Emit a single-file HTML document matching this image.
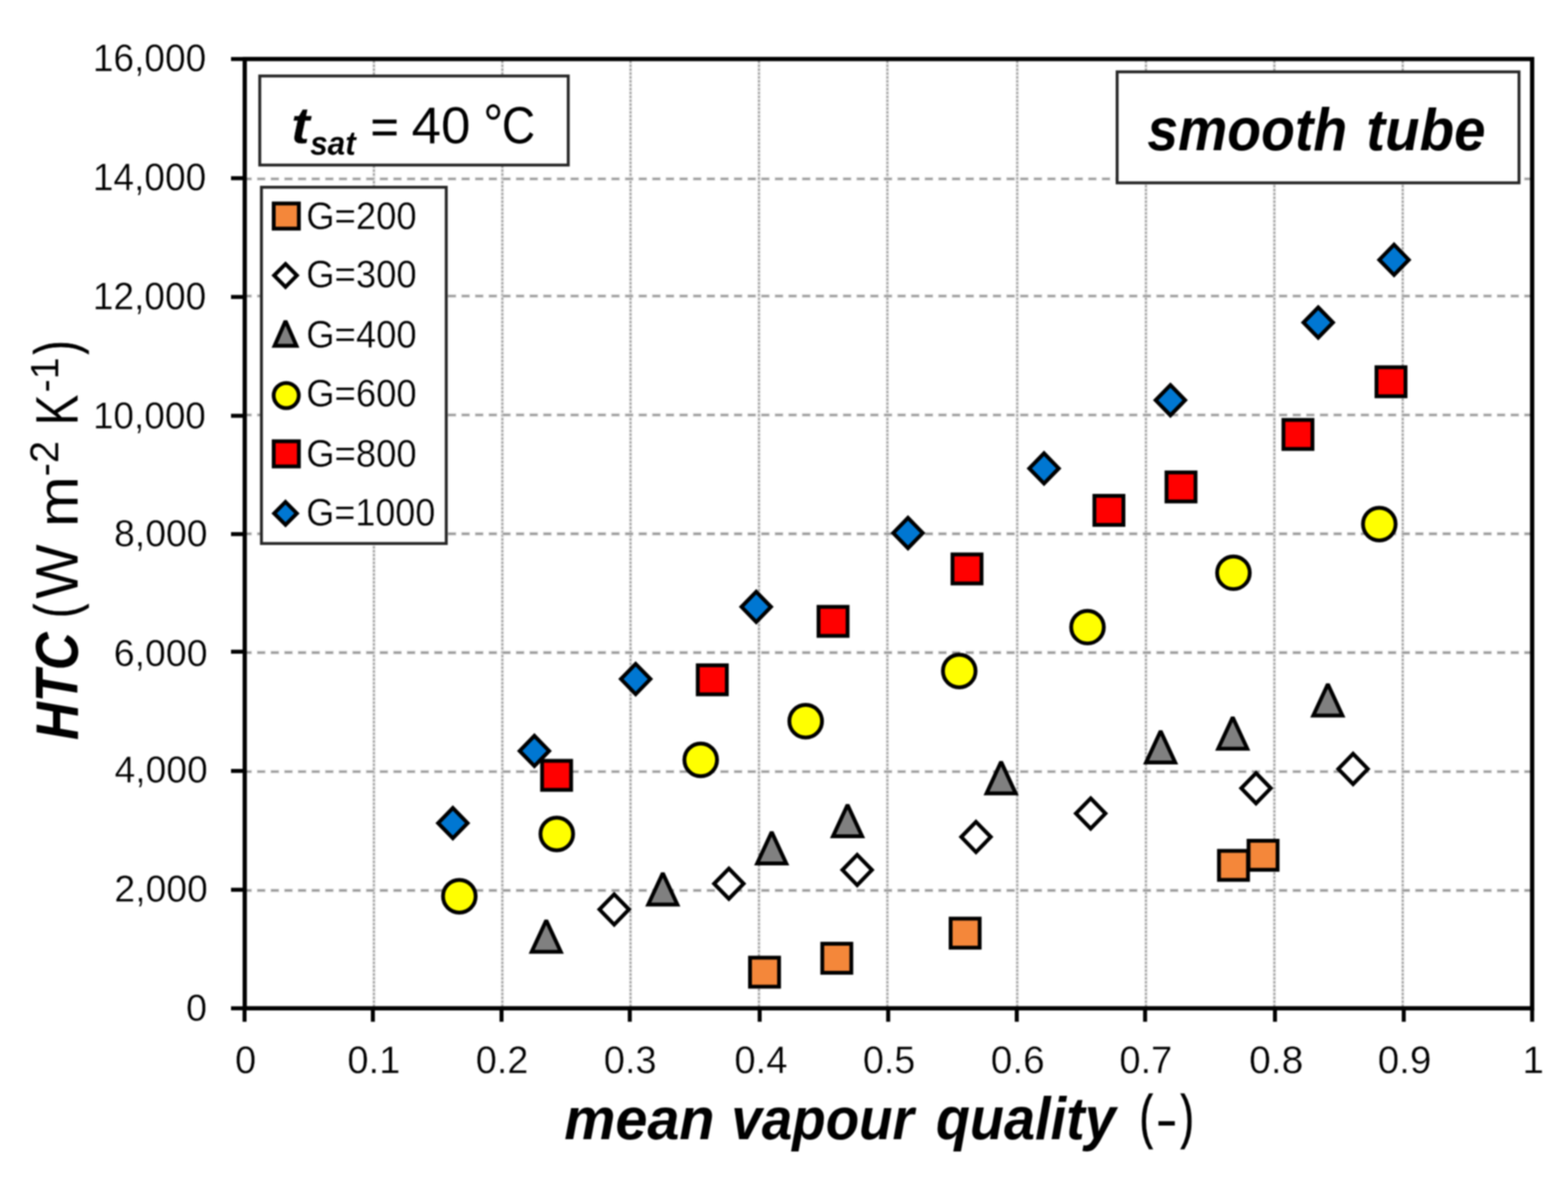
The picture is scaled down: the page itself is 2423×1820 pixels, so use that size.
<!DOCTYPE html>
<html lang="en"><head><meta charset="utf-8"><title>HTC vs mean vapour quality - smooth tube</title>
<style>html,body{margin:0;padding:0;background:#fff}body{width:2423px;height:1820px}svg{display:block}text{font-family:"Liberation Sans",sans-serif;fill:#000}</style></head><body>
<svg width="2423" height="1820" viewBox="0 0 2423 1820" role="img" aria-label="HTC versus mean vapour quality, smooth tube, tsat = 40 °C">
<defs><filter id="soft" color-interpolation-filters="sRGB" x="0" y="0" width="2423" height="1820" filterUnits="userSpaceOnUse"><feGaussianBlur stdDeviation="0.8"/></filter></defs>
<rect width="2423" height="1820" fill="#fff"/>
<g filter="url(#soft)">
<rect x="-20" y="-20" width="2463" height="1860" fill="#fff"/>
<g fill="none">
<g stroke="#efefef" stroke-width="5.2">
<line x1="577.9" y1="91.2" x2="577.9" y2="1557.8"/>
<line x1="776.3" y1="91.2" x2="776.3" y2="1557.8"/>
<line x1="974.4" y1="91.2" x2="974.4" y2="1557.8"/>
<line x1="1172.9" y1="91.2" x2="1172.9" y2="1557.8"/>
<line x1="1371.3" y1="91.2" x2="1371.3" y2="1557.8"/>
<line x1="1572" y1="91.2" x2="1572" y2="1557.8"/>
<line x1="1770.9" y1="91.2" x2="1770.9" y2="1557.8"/>
<line x1="1969.3" y1="91.2" x2="1969.3" y2="1557.8"/>
<line x1="2167.7" y1="91.2" x2="2167.7" y2="1557.8"/>
</g>
<g stroke="#a2a2a2" stroke-width="3.0" stroke-dasharray="3.9 2.1">
<line x1="577.8" y1="93.7" x2="577.8" y2="1557.8"/>
<line x1="776.2" y1="93.7" x2="776.2" y2="1557.8"/>
<line x1="974.3" y1="93.7" x2="974.3" y2="1557.8"/>
<line x1="1172.8" y1="93.7" x2="1172.8" y2="1557.8"/>
<line x1="1371.2" y1="93.7" x2="1371.2" y2="1557.8"/>
<line x1="1571.9" y1="93.7" x2="1571.9" y2="1557.8"/>
<line x1="1770.8" y1="93.7" x2="1770.8" y2="1557.8"/>
<line x1="1969.2" y1="93.7" x2="1969.2" y2="1557.8"/>
<line x1="2167.6" y1="93.7" x2="2167.6" y2="1557.8"/>
</g>
<g stroke="#d4d4d4" stroke-width="5.4" stroke-dasharray="13.2 7.855">
<line x1="376" y1="1375.7" x2="2367.6" y2="1375.7"/>
<line x1="376" y1="1192.1" x2="2367.6" y2="1192.1"/>
<line x1="376" y1="1008.3" x2="2367.6" y2="1008.3"/>
<line x1="376" y1="824.8" x2="2367.6" y2="824.8"/>
<line x1="376" y1="641.1" x2="2367.6" y2="641.1"/>
<line x1="376" y1="457.4" x2="2367.6" y2="457.4"/>
<line x1="376" y1="276.4" x2="2367.6" y2="276.4"/>
</g>
<g stroke="#8f8f8f" stroke-width="2.4" stroke-dasharray="11.4 9.655">
<line x1="376.9" y1="1375.7" x2="2367.6" y2="1375.7"/>
<line x1="376.9" y1="1192.1" x2="2367.6" y2="1192.1"/>
<line x1="376.9" y1="1008.3" x2="2367.6" y2="1008.3"/>
<line x1="376.9" y1="824.8" x2="2367.6" y2="824.8"/>
<line x1="376.9" y1="641.1" x2="2367.6" y2="641.1"/>
<line x1="376.9" y1="457.4" x2="2367.6" y2="457.4"/>
<line x1="376.9" y1="276.4" x2="2367.6" y2="276.4"/>
</g>
</g>
<g stroke="#000" fill="none">
<rect x="378.2" y="91.2" width="1989.4" height="1466.6" stroke-width="6.6"/>
<g stroke-width="6.2">
<line x1="357" y1="1557.8" x2="378.2" y2="1557.8"/>
<line x1="357" y1="1374.7" x2="378.2" y2="1374.7"/>
<line x1="357" y1="1191.1" x2="378.2" y2="1191.1"/>
<line x1="357" y1="1006.9" x2="378.2" y2="1006.9"/>
<line x1="357" y1="825.2" x2="378.2" y2="825.2"/>
<line x1="357" y1="642.4" x2="378.2" y2="642.4"/>
<line x1="357" y1="458.8" x2="378.2" y2="458.8"/>
<line x1="357" y1="275.3" x2="378.2" y2="275.3"/>
<line x1="357" y1="91.2" x2="378.2" y2="91.2"/>
<line x1="377.9" y1="1557.8" x2="377.9" y2="1578.6"/>
<line x1="576.2" y1="1557.8" x2="576.2" y2="1578.6"/>
<line x1="775" y1="1557.8" x2="775" y2="1578.6"/>
<line x1="973.2" y1="1557.8" x2="973.2" y2="1578.6"/>
<line x1="1173.9" y1="1557.8" x2="1173.9" y2="1578.6"/>
<line x1="1372.5" y1="1557.8" x2="1372.5" y2="1578.6"/>
<line x1="1571.2" y1="1557.8" x2="1571.2" y2="1578.6"/>
<line x1="1769.5" y1="1557.8" x2="1769.5" y2="1578.6"/>
<line x1="1970.2" y1="1557.8" x2="1970.2" y2="1578.6"/>
<line x1="2169.2" y1="1557.8" x2="2169.2" y2="1578.6"/>
<line x1="2367.6" y1="1557.8" x2="2367.6" y2="1578.6"/>
</g></g>
<g fill="#fff" stroke="#262626" stroke-width="4.5">
<rect x="401.4" y="117.4" width="476.7" height="137.6"/>
<rect x="1726.3" y="111.0" width="621.0" height="171.5"/>
<rect x="404.0" y="289.3" width="285.6" height="550.4"/>
</g>
<g>
<rect x="1158.98" y="1479.58" width="44.85" height="44.85" fill="#F4873A" stroke="#000" stroke-width="5.95"/>
<rect x="1270.67" y="1458.08" width="44.85" height="44.85" fill="#F4873A" stroke="#000" stroke-width="5.95"/>
<rect x="1468.98" y="1419.28" width="44.85" height="44.85" fill="#F4873A" stroke="#000" stroke-width="5.95"/>
<rect x="1883.67" y="1314.58" width="44.85" height="44.85" fill="#F4873A" stroke="#000" stroke-width="5.95"/>
<rect x="1929.38" y="1298.98" width="44.85" height="44.85" fill="#F4873A" stroke="#000" stroke-width="5.95"/>
<polygon points="949.1,1381.71 971.89,1405.1 949.1,1428.49 926.31,1405.1" fill="#FFFFFF" stroke="#000" stroke-width="5.95" stroke-linejoin="miter"/>
<polygon points="1126.3,1341.91 1149.09,1365.3 1126.3,1388.69 1103.51,1365.3" fill="#FFFFFF" stroke="#000" stroke-width="5.95" stroke-linejoin="miter"/>
<polygon points="1324.6,1320.71 1347.39,1344.1 1324.6,1367.49 1301.81,1344.1" fill="#FFFFFF" stroke="#000" stroke-width="5.95" stroke-linejoin="miter"/>
<polygon points="1508.2,1269.71 1530.99,1293.1 1508.2,1316.49 1485.41,1293.1" fill="#FFFFFF" stroke="#000" stroke-width="5.95" stroke-linejoin="miter"/>
<polygon points="1685.4,1233.41 1708.19,1256.8 1685.4,1280.19 1662.61,1256.8" fill="#FFFFFF" stroke="#000" stroke-width="5.95" stroke-linejoin="miter"/>
<polygon points="1940.9,1194.41 1963.69,1217.8 1940.9,1241.19 1918.11,1217.8" fill="#FFFFFF" stroke="#000" stroke-width="5.95" stroke-linejoin="miter"/>
<polygon points="2090.9,1164.61 2113.69,1188 2090.9,1211.39 2068.11,1188" fill="#FFFFFF" stroke="#000" stroke-width="5.95" stroke-linejoin="miter"/>
<polygon points="844.1,1422.01 866.61,1470.58 821.59,1470.58" fill="#808080" stroke="#000" stroke-width="5.95" stroke-linejoin="miter" stroke-miterlimit="2"/>
<polygon points="1024.2,1349.01 1046.71,1397.58 1001.69,1397.58" fill="#808080" stroke="#000" stroke-width="5.95" stroke-linejoin="miter" stroke-miterlimit="2"/>
<polygon points="1192.5,1285.51 1215.01,1334.08 1169.99,1334.08" fill="#808080" stroke="#000" stroke-width="5.95" stroke-linejoin="miter" stroke-miterlimit="2"/>
<polygon points="1309.7,1243.51 1332.21,1292.08 1287.19,1292.08" fill="#808080" stroke="#000" stroke-width="5.95" stroke-linejoin="miter" stroke-miterlimit="2"/>
<polygon points="1547,1177.11 1569.51,1225.67 1524.49,1225.67" fill="#808080" stroke="#000" stroke-width="5.95" stroke-linejoin="miter" stroke-miterlimit="2"/>
<polygon points="1793.5,1129.41 1816.01,1177.97 1770.99,1177.97" fill="#808080" stroke="#000" stroke-width="5.95" stroke-linejoin="miter" stroke-miterlimit="2"/>
<polygon points="1904.9,1108.21 1927.41,1156.78 1882.39,1156.78" fill="#808080" stroke="#000" stroke-width="5.95" stroke-linejoin="miter" stroke-miterlimit="2"/>
<polygon points="2051.9,1057.01 2074.41,1105.58 2029.39,1105.58" fill="#808080" stroke="#000" stroke-width="5.95" stroke-linejoin="miter" stroke-miterlimit="2"/>
<circle cx="709.8" cy="1384.8" r="25.22" fill="#FFFF00" stroke="#000" stroke-width="5.95"/>
<circle cx="860.4" cy="1288.5" r="25.22" fill="#FFFF00" stroke="#000" stroke-width="5.95"/>
<circle cx="1082.8" cy="1174" r="25.22" fill="#FFFF00" stroke="#000" stroke-width="5.95"/>
<circle cx="1245" cy="1114.3" r="25.22" fill="#FFFF00" stroke="#000" stroke-width="5.95"/>
<circle cx="1482.3" cy="1036.7" r="25.22" fill="#FFFF00" stroke="#000" stroke-width="5.95"/>
<circle cx="1680.5" cy="968.9" r="25.22" fill="#FFFF00" stroke="#000" stroke-width="5.95"/>
<circle cx="1906" cy="884.9" r="25.22" fill="#FFFF00" stroke="#000" stroke-width="5.95"/>
<circle cx="2131.4" cy="809.8" r="25.22" fill="#FFFF00" stroke="#000" stroke-width="5.95"/>
<rect x="837.68" y="1175.48" width="44.85" height="44.85" fill="#FF0000" stroke="#000" stroke-width="5.95"/>
<rect x="1078.28" y="1027.88" width="44.85" height="44.85" fill="#FF0000" stroke="#000" stroke-width="5.95"/>
<rect x="1264.88" y="937.58" width="44.85" height="44.85" fill="#FF0000" stroke="#000" stroke-width="5.95"/>
<rect x="1471.88" y="856.58" width="44.85" height="44.85" fill="#FF0000" stroke="#000" stroke-width="5.95"/>
<rect x="1691.17" y="766.08" width="44.85" height="44.85" fill="#FF0000" stroke="#000" stroke-width="5.95"/>
<rect x="1802.58" y="729.88" width="44.85" height="44.85" fill="#FF0000" stroke="#000" stroke-width="5.95"/>
<rect x="1983.28" y="648.78" width="44.85" height="44.85" fill="#FF0000" stroke="#000" stroke-width="5.95"/>
<rect x="2127.07" y="567.38" width="44.85" height="44.85" fill="#FF0000" stroke="#000" stroke-width="5.95"/>
<polygon points="699.8,1248.31 722.59,1271.7 699.8,1295.09 677.01,1271.7" fill="#0077D2" stroke="#000" stroke-width="5.95" stroke-linejoin="miter"/>
<polygon points="825.8,1136.81 848.59,1160.2 825.8,1183.59 803.01,1160.2" fill="#0077D2" stroke="#000" stroke-width="5.95" stroke-linejoin="miter"/>
<polygon points="982.3,1025.71 1005.09,1049.1 982.3,1072.49 959.51,1049.1" fill="#0077D2" stroke="#000" stroke-width="5.95" stroke-linejoin="miter"/>
<polygon points="1168.6,914.21 1191.39,937.6 1168.6,960.99 1145.81,937.6" fill="#0077D2" stroke="#000" stroke-width="5.95" stroke-linejoin="miter"/>
<polygon points="1403.1,800.11 1425.89,823.5 1403.1,846.89 1380.31,823.5" fill="#0077D2" stroke="#000" stroke-width="5.95" stroke-linejoin="miter"/>
<polygon points="1613.3,700.31 1636.09,723.7 1613.3,747.09 1590.51,723.7" fill="#0077D2" stroke="#000" stroke-width="5.95" stroke-linejoin="miter"/>
<polygon points="1808.6,594.91 1831.39,618.3 1808.6,641.69 1785.81,618.3" fill="#0077D2" stroke="#000" stroke-width="5.95" stroke-linejoin="miter"/>
<polygon points="2037,474.91 2059.79,498.3 2037,521.69 2014.21,498.3" fill="#0077D2" stroke="#000" stroke-width="5.95" stroke-linejoin="miter"/>
<polygon points="2154.2,378.01 2176.99,401.4 2154.2,424.79 2131.41,401.4" fill="#0077D2" stroke="#000" stroke-width="5.95" stroke-linejoin="miter"/>
</g>
<g>
<rect x="422.97" y="314.38" width="38.85" height="38.85" fill="#F4873A" stroke="#000" stroke-width="5.95"/>
<polygon points="441.2,407.91 458.79,425.6 441.2,443.29 423.61,425.6" fill="#FFFFFF" stroke="#000" stroke-width="5.95" stroke-linejoin="miter"/>
<polygon points="441.2,495.86 458.11,534.27 424.29,534.27" fill="#808080" stroke="#000" stroke-width="5.95" stroke-linejoin="miter" stroke-miterlimit="2"/>
<circle cx="442.3" cy="611.1" r="19.42" fill="#FFFF00" stroke="#000" stroke-width="5.95"/>
<rect x="422.97" y="681.78" width="38.85" height="38.85" fill="#FF0000" stroke="#000" stroke-width="5.95"/>
<polygon points="441.2,775.51 458.79,793.2 441.2,810.89 423.61,793.2" fill="#0077D2" stroke="#000" stroke-width="5.95" stroke-linejoin="miter"/>
</g>
<g>
<g transform="matrix(0.9880 0 0 1.0049 143.41 110.25)"><text font-size="58" stroke="#fff" stroke-width="0.45">16,000</text></g>
<g transform="matrix(0.9880 0 0 1.0049 143.41 294.15)"><text font-size="58" stroke="#fff" stroke-width="0.45">14,000</text></g>
<g transform="matrix(0.9880 0 0 1.0049 143.41 477.85)"><text font-size="58" stroke="#fff" stroke-width="0.45">12,000</text></g>
<g transform="matrix(0.9838 0 0 1.0049 143.63 661.55)"><text font-size="58" stroke="#fff" stroke-width="0.45">10,000</text></g>
<g transform="matrix(0.9950 0 0 1.0049 176.26 844.45)"><text font-size="58" stroke="#fff" stroke-width="0.45">8,000</text></g>
<g transform="matrix(0.9986 0 0 1.0049 175.75 1028.85)"><text font-size="58" stroke="#fff" stroke-width="0.45">6,000</text></g>
<g transform="matrix(0.9919 0 0 1.0049 177.01 1209.15)"><text font-size="58" stroke="#fff" stroke-width="0.45">4,000</text></g>
<g transform="matrix(0.9943 0 0 1.0049 176.87 1392.75)"><text font-size="58" stroke="#fff" stroke-width="0.45">2,000</text></g>
<g transform="matrix(1.0049 0 0 1.0049 287.40 1576.55)"><text font-size="58" stroke="#fff" stroke-width="0.45">0</text></g>
<g transform="matrix(1.0099 0 0 1.0099 363.22 1657.95)"><text font-size="58" stroke="#fff" stroke-width="0.45">0</text></g>
<g transform="matrix(1.0160 0 0 1.0099 536.76 1657.95)"><text font-size="58" stroke="#fff" stroke-width="0.45">0.1</text></g>
<g transform="matrix(1.0067 0 0 1.0099 735.28 1657.95)"><text font-size="58" stroke="#fff" stroke-width="0.45">0.2</text></g>
<g transform="matrix(1.0126 0 0 1.0099 933.07 1657.95)"><text font-size="58" stroke="#fff" stroke-width="0.45">0.3</text></g>
<g transform="matrix(1.0203 0 0 1.0099 1134.65 1657.95)"><text font-size="58" stroke="#fff" stroke-width="0.45">0.4</text></g>
<g transform="matrix(1.0026 0 0 1.0099 1333.49 1657.95)"><text font-size="58" stroke="#fff" stroke-width="0.45">0.5</text></g>
<g transform="matrix(1.0339 0 0 1.0099 1531.12 1657.95)"><text font-size="58" stroke="#fff" stroke-width="0.45">0.6</text></g>
<g transform="matrix(1.0160 0 0 1.0099 1729.66 1657.95)"><text font-size="58" stroke="#fff" stroke-width="0.45">0.7</text></g>
<g transform="matrix(1.0379 0 0 1.0099 1930.21 1657.95)"><text font-size="58" stroke="#fff" stroke-width="0.45">0.8</text></g>
<g transform="matrix(1.0286 0 0 1.0099 2128.93 1657.95)"><text font-size="58" stroke="#fff" stroke-width="0.45">0.9</text></g>
<g transform="matrix(1.0354 0 0 1.0354 2352.60 1658.46)"><text font-size="58" stroke="#fff" stroke-width="0.45">1</text></g>
<g transform="matrix(0.9706 0 0 1.0074 473.25 353.95)"><text font-size="58" stroke="#fff" stroke-width="0.45">G=200</text></g>
<g transform="matrix(0.9706 0 0 1.0074 473.25 444.45)"><text font-size="58" stroke="#fff" stroke-width="0.45">G=300</text></g>
<g transform="matrix(0.9706 0 0 1.0074 473.25 537.05)"><text font-size="58" stroke="#fff" stroke-width="0.45">G=400</text></g>
<g transform="matrix(0.9706 0 0 1.0074 473.25 628.15)"><text font-size="58" stroke="#fff" stroke-width="0.45">G=600</text></g>
<g transform="matrix(0.9706 0 0 1.0074 473.25 720.85)"><text font-size="58" stroke="#fff" stroke-width="0.45">G=800</text></g>
<g transform="matrix(0.9587 0 0 1.0074 473.28 811.65)"><text font-size="58" stroke="#fff" stroke-width="0.45">G=1000</text></g>
<g transform="matrix(0.9265 0 0 0.9429 871.88 1759.66)"><text font-size="96" font-weight="bold" font-style="italic">mean</text></g>
<g transform="matrix(0.8811 0 0 0.9429 1130.17 1759.66)"><text font-size="96" font-weight="bold" font-style="italic">vapour</text></g>
<g transform="matrix(0.8992 0 0 0.9688 1446.13 1759.63)"><text font-size="96" font-weight="bold" font-style="italic">quality</text></g>
<g transform="matrix(0.6265 0 0 0.9512 1761.27 1756.46)"><text font-size="96" stroke="#000" stroke-width="1.82">(</text></g>
<g transform="matrix(1.0809 0 0 0.9067 1785.61 1759.12)"><text font-size="96">-</text></g>
<g transform="matrix(0.6265 0 0 0.9512 1824.48 1756.46)"><text font-size="96" stroke="#000" stroke-width="1.82">)</text></g>
<g transform="matrix(0.8905 0 0 0.9560 1772.99 231.54)"><text font-size="96" font-weight="bold" font-style="italic">smooth</text></g>
<g transform="matrix(0.9092 0 0 0.9560 2111.26 231.54)"><text font-size="96" font-weight="bold" font-style="italic">tube</text></g>
<g transform="matrix(0.9106 0 0 0.8286 449.83 221.09)"><text font-size="96" font-weight="bold" font-style="italic" stroke="#fff" stroke-width="0.33">t</text></g>
<g transform="matrix(0.7647 0 0 0.8047 479.14 239.10)"><text font-size="64" font-weight="bold" font-style="italic" stroke="#fff" stroke-width="0.17">sat</text></g>
<g transform="matrix(0.7789 0 0 0.7685 572.49 221.20)"><text font-size="96" stroke="#000" stroke-width="0.83">=</text></g>
<g transform="matrix(0.8526 0 0 0.8236 636.08 221.18)"><text font-size="96" stroke="#fff" stroke-width="0.17">40</text></g>
<g transform="matrix(0.7418 0 0 0.8250 746.86 220.98)"><text font-size="96"><tspan font-size="104" dy="-0.5">°</tspan><tspan dx="-3" dy="0.5">C</tspan></text></g>
<g transform="matrix(0.9591 0 0 0.8438 120.30 1143.48)"><text font-size="96" font-weight="bold" font-style="italic" transform="rotate(-90)">HTC</text></g>
<g transform="matrix(0.9618 0 0 0.6766 117.92 954.62)"><text font-size="96" transform="rotate(-90)" stroke="#000" stroke-width="0.83">(</text></g>
<g transform="matrix(0.9591 0 0 0.9296 120.30 925.16)"><text font-size="96" transform="rotate(-90)" stroke="#fff" stroke-width="0.17">W</text></g>
<g transform="matrix(0.9320 0 0 0.9806 120.30 814.37)"><text font-size="96" transform="rotate(-90)" stroke="#fff" stroke-width="0.17">m</text></g>
<g transform="matrix(0.9708 0 0 0.9635 89.90 735.95)"><text font-size="64" transform="rotate(-90)" stroke="#fff" stroke-width="0.11">-2</text></g>
<g transform="matrix(0.9591 0 0 0.7434 120.30 656.95)"><text font-size="96" transform="rotate(-90)" stroke="#fff" stroke-width="0.17">K</text></g>
<g transform="matrix(0.9659 0 0 0.9490 89.90 606.21)"><text font-size="64" transform="rotate(-90)" stroke="#fff" stroke-width="0.11">-1</text></g>
<g transform="matrix(0.9618 0 0 0.6766 117.92 547.73)"><text font-size="96" transform="rotate(-90)" stroke="#000" stroke-width="0.83">)</text></g>
</g>
</g>
</svg></body></html>
